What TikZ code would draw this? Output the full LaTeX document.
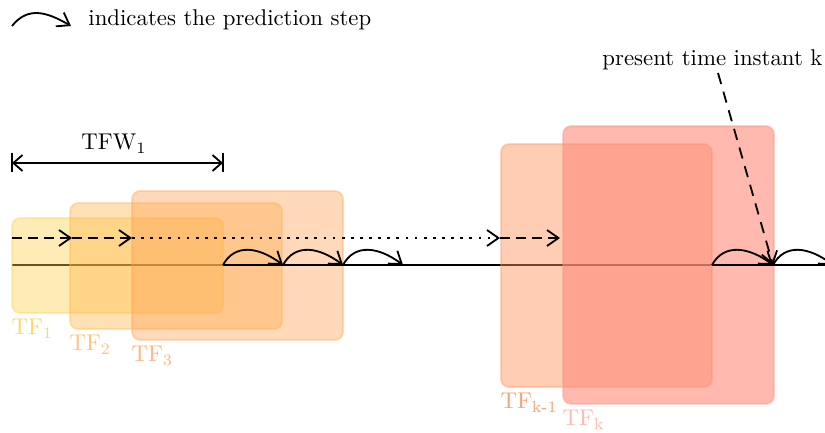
\documentclass[tikz,border=0pt]{standalone}
\usepackage{amsmath}
\usetikzlibrary{arrows.meta,fit}
\definecolor{cA}{RGB}{255,205,70}
\definecolor{cB}{RGB}{255,180,70}
\definecolor{cC}{RGB}{255,160,80}
\definecolor{cD}{RGB}{255,144,89}
\definecolor{cE}{RGB}{255,138,122}
\definecolor{lA}{RGB}{255,214,110}
\definecolor{lB}{RGB}{255,195,125}
\definecolor{lC}{RGB}{255,182,130}
\definecolor{lD}{RGB}{250,160,120}
\definecolor{lE}{RGB}{255,185,175}
\tikzset{
  tfbox/.style={rounded corners=3.5pt, inner sep=0pt, line width=0.8pt, fill opacity=0.4, draw opacity=0.35},
  tflabel/.style={anchor=north west, inner xsep=0pt, inner ysep=2.2pt},
  tip/.style={-{Straight Barb[length=5pt,width=7pt,line width=0.8pt]}},
  predstep/.style={line width=0.8pt, tip},
  tline/.style={line width=0.8pt},
}
\begin{document}
\begin{tikzpicture}[x=0.4386pt,y=-0.4386pt]
\clip (0,0) rectangle (825,433);
\useasboundingbox (0,0) rectangle (825,433);

% legend
\coordinate (lg0) at (12,26);
\coordinate (lg1) at (71,26);
\draw[predstep] (lg0) .. controls +(16,-20) and +(-24,-14) .. (lg1);
\node[anchor=base west, inner sep=0pt] (legend) at (88,26) {indicates the prediction step};

% TFW dimension
\coordinate (w0) at (12,163);
\coordinate (w1) at (223,163);
\draw[tline] (12,153) -- (12,172);
\draw[tline] (223,153) -- (223,172);
\draw[tline, {Straight Barb[length=4pt,width=7pt,line width=0.8pt]}-{Straight Barb[length=4pt,width=7pt,line width=0.8pt]}] (w0) -- (w1);
\node[anchor=base, inner sep=0pt] (tfw) at (114,150) {TFW$_\text{1}$};

% time line (under boxes)
\coordinate (t0) at (12,265);
\coordinate (tend) at (830,265);
\draw[tline] (t0) -- (tend);

% boxes
\coordinate (b1a) at (12,218);  \coordinate (b1b) at (223,313);
\coordinate (b2a) at (70,203);  \coordinate (b2b) at (282,329);
\coordinate (b3a) at (132,191); \coordinate (b3b) at (343,340);
\coordinate (b4a) at (501,144); \coordinate (b4b) at (712,387);
\coordinate (b5a) at (563,126); \coordinate (b5b) at (774,404);
\node[tfbox, fill=cA, draw=cA, fit=(b1a)(b1b)] (tf1) {};
\node[tfbox, fill=cB, draw=cB, fit=(b2a)(b2b)] (tf2) {};
\node[tfbox, fill=cC, draw=cC, fit=(b3a)(b3b)] (tf3) {};
\node[tfbox, fill=cD, draw=cD, fit=(b4a)(b4b), fill opacity=0.45] (tfk1) {};
\node[tfbox, fill=cE, draw=cE, fit=(b5a)(b5b), fill opacity=0.6] (tfk) {};

\node[tflabel, text=lA] (l1) at (tf1.south west) {TF$_\text{1}$};
\node[tflabel, text=lB] (l2) at (tf2.south west) {TF$_\text{2}$};
\node[tflabel, text=lC] (l3) at (tf3.south west) {TF$_\text{3}$};
\node[tflabel, text=lD] (l4) at (tfk1.south west) {TF$_\text{k-1}$};
\node[tflabel, text=lE] (l5) at (tfk.south west) {TF$_\text{k}$};

% dashed / dotted line (on top)
\coordinate (d0) at (12,238);
\coordinate (d1) at (72,238);
\coordinate (d2) at (132,238);
\coordinate (d3) at (500,238);
\coordinate (d4) at (560,238);
\draw[tline, dash pattern=on 4.5pt off 2.5pt, tip] (d0) -- (d1);
\draw[tline, dash pattern=on 4.5pt off 2.5pt, tip] (d1) -- (d2);
\draw[tline, dash pattern=on 1.2pt off 2.8pt, tip] (d2) -- (d3);
\draw[tline, dash pattern=on 4.5pt off 2.5pt, tip] (d3) -- (d4);

% prediction steps (on top)
\coordinate (p0) at (223,265);
\coordinate (p1) at (283,265);
\coordinate (p2) at (343,265);
\coordinate (p3) at (403,265);
\coordinate (q0) at (712,265);
\coordinate (q1) at (773,265);
\coordinate (q2) at (833,265);
\draw[tline] (p0) -- (p3);
\draw[tline] (q0) -- (tend);
\foreach \a/\b in {p0/p1,p1/p2,p2/p3,q0/q1,q1/q2}{
  \draw[predstep] (\a) .. controls +(12,-22) and +(-24,-18) .. (\b);
}

% present time instant
\node[anchor=base west, inner sep=0pt] (present) at (602,66) {present time instant k};
\coordinate (pr0) at (718,73);
\draw[tline, dash pattern=on 5pt off 3.5pt, tip] (pr0) -- (q1);
\end{tikzpicture}
\end{document}
